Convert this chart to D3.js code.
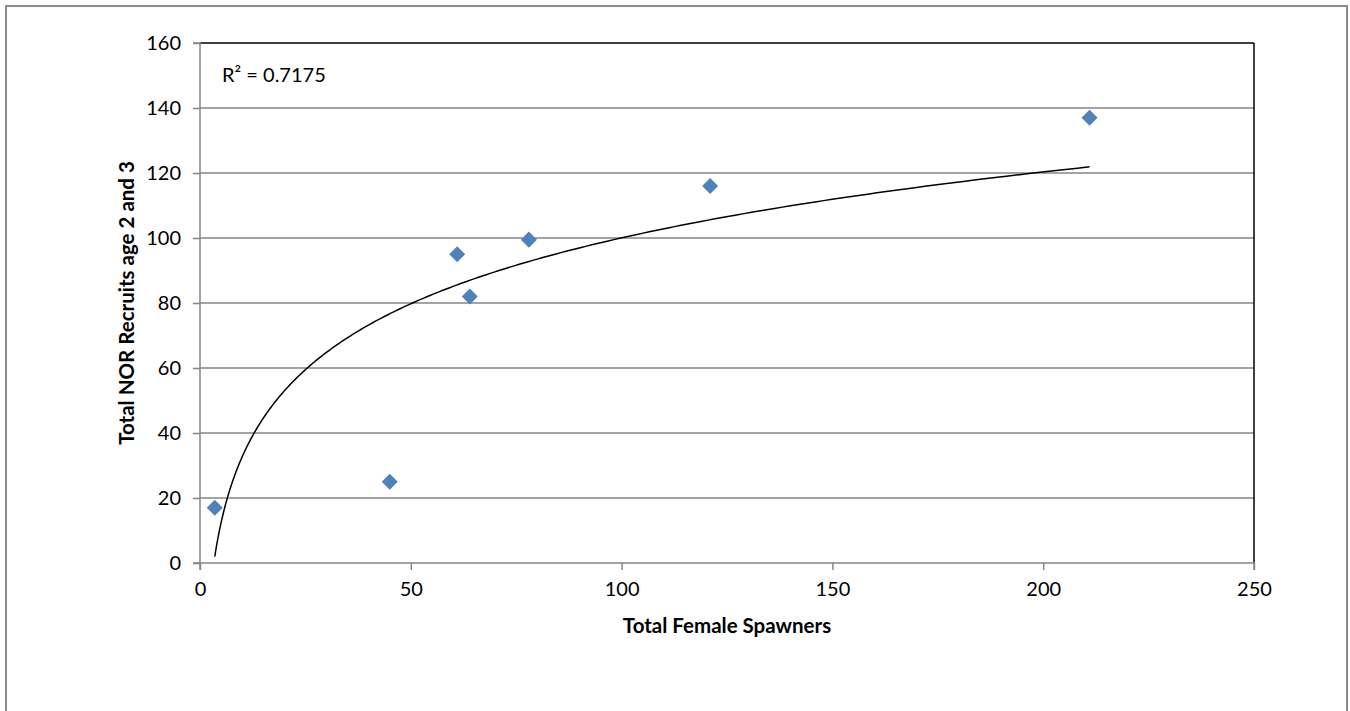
<!DOCTYPE html>
<html>
<head>
<meta charset="utf-8">
<script src="https://cdn.jsdelivr.net/npm/d3@7/dist/d3.min.js"></script>
<style>
  body { margin: 0; background: #fff; }
  svg { display: block; }
  text { font-family: Lato, "Open Sans", "Liberation Sans", sans-serif; fill: #000; }
</style>
</head>
<body>
<svg id="chart" width="1350" height="711"></svg>
<script>
// Data
const spawners = [3.5, 45, 61, 64, 78, 121, 211];
const recruits = [17, 25, 95, 82, 99.5, 116, 137];
const xTicks = [0, 50, 100, 150, 200, 250];
const yTicks = [0, 20, 40, 60, 80, 100, 120, 140, 160];
const r2Label = "R² = 0.7175";
const xTitle = "Total Female Spawners";
const yTitle = "Total NOR Recruits age 2 and 3";

const svg = d3.select("#chart");
const m = { left: 200, right: 1254, top: 43, bottom: 563 };

// Outer chart border
svg.append("rect").attr("x", 6).attr("y", 6).attr("width", 1341).attr("height", 720)
  .attr("fill", "#fff").attr("stroke", "#8c8c8c").attr("stroke-width", 2);

const x = d3.scaleLinear().domain([0, 250]).range([m.left, m.right]);
const y = d3.scaleLinear().domain([0, 160]).range([m.bottom, m.top]);

// Gridlines
svg.append("g").selectAll("line").data(yTicks.filter(d => d > 0 && d < 160)).join("line")
  .attr("x1", m.left).attr("x2", m.right)
  .attr("y1", d => y(d)).attr("y2", d => y(d))
  .attr("stroke", "#868686").attr("stroke-width", 1.5);

// Plot area border (top and right dark)
svg.append("line").attr("x1", m.left).attr("x2", m.right).attr("y1", m.top).attr("y2", m.top)
  .attr("stroke", "#000").attr("stroke-width", 1.5);
svg.append("line").attr("x1", m.right).attr("x2", m.right).attr("y1", m.top).attr("y2", m.bottom)
  .attr("stroke", "#000").attr("stroke-width", 1.5);

// Axes
const yAxis = d3.axisLeft(y).tickValues(yTicks).tickSize(7).tickPadding(12).tickFormat(d3.format("d"));
const xAxis = d3.axisBottom(x).tickValues(xTicks).tickSize(7).tickPadding(12).tickFormat(d3.format("d"));

const gy = svg.append("g").attr("transform", `translate(${m.left},0)`).call(yAxis);
const gx = svg.append("g").attr("transform", `translate(0,${m.bottom})`).call(xAxis);
[gy, gx].forEach(g => {
  g.select(".domain").attr("stroke", "#868686").attr("stroke-width", 1.5);
  g.selectAll(".tick line").attr("stroke", "#868686").attr("stroke-width", 1.5);
  g.selectAll(".tick text").attr("font-size", 20).attr("font-family", "Lato, 'Open Sans', sans-serif").attr("fill", "#000");
});
gx.select(".domain").attr("d", `M${m.left},7V0H${m.right}V7`);
gy.select(".domain").attr("d", `M-7,${m.top}H0V${m.bottom}H-7`);

// Log trendline via least squares
const lx = spawners.map(Math.log);
const mx = d3.mean(lx), my = d3.mean(recruits);
const a = d3.sum(lx.map((v, i) => (v - mx) * (recruits[i] - my))) / d3.sum(lx.map(v => (v - mx) ** 2));
const b = my - a * mx;
const xmin = d3.min(spawners), xmax = d3.max(spawners);
const curve = d3.range(0, 301).map(i => {
  const xv = xmin * Math.pow(xmax / xmin, i / 300);
  return [xv, a * Math.log(xv) + b];
});
svg.append("path").datum(curve)
  .attr("d", d3.line().x(d => x(d[0])).y(d => y(d[1])))
  .attr("fill", "none").attr("stroke", "#000").attr("stroke-width", 1.5);

// Markers
const diamond = d3.symbol().type(d3.symbolSquare).size(128);
svg.append("g").selectAll("path").data(spawners.map((s, i) => [s, recruits[i]])).join("path")
  .attr("d", diamond)
  .attr("transform", d => `translate(${x(d[0])},${y(d[1])}) rotate(45)`)
  .attr("fill", "#4f81bd");

// R² label
svg.append("text").attr("x", 222).attr("y", 82).attr("font-size", 20).text(r2Label);

// Axis titles
svg.append("text").attr("x", (m.left + m.right) / 2).attr("y", 633)
  .attr("text-anchor", "middle").attr("font-size", 20.5).attr("font-weight", "bold").text(xTitle);
svg.append("text").attr("transform", `translate(134,${(m.top + m.bottom) / 2}) rotate(-90)`)
  .attr("text-anchor", "middle").attr("font-size", 20.5).attr("font-weight", "bold").text(yTitle);
</script>
</body>
</html>
